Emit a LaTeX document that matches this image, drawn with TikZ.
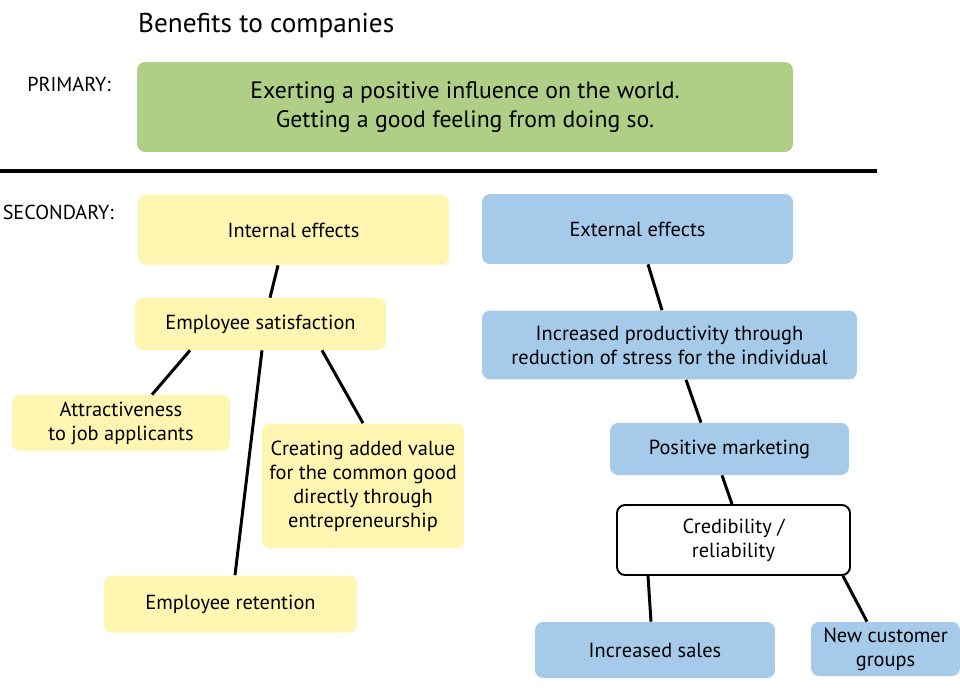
\documentclass[tikz,border=0pt]{standalone}
\usepackage{fontspec}
\setmainfont{PT Sans}
\usetikzlibrary{positioning, calc}

\definecolor{primgreen}{RGB}{174,207,133}
\definecolor{intyellow}{RGB}{255,246,177}
\definecolor{extblue}{RGB}{166,202,233}

\begin{document}
\begin{tikzpicture}[
    x=0.02cm, y=-0.02cm,
    box/.style={
        rounded corners=0.16cm,
        align=center,
        inner sep=2pt,
        font=\fontsize{11.6}{13.6}\selectfont
    },
    primbox/.style={box, fill=primgreen, font=\fontsize{13.5}{16.3}\selectfont},
    intbox/.style={box, fill=intyellow},
    extbox/.style={box, fill=extblue},
    credbox/.style={box, fill=white, draw=black, line width=1.1pt},
    link/.style={line width=1.7pt, black},
    tag/.style={font=\fontsize{11.5}{13}\selectfont, anchor=east}
]

% frame
\useasboundingbox (0,0) rectangle (960,690);

% heading and levels
\node[font=\fontsize{15.5}{18}\selectfont, anchor=west] (title) at (132,26) {Benefits to companies};
\node[tag] (primary) at (117,84) {PRIMARY:};
\node[tag] (secondary) at (120,212) {SECONDARY:};

\node[primbox, minimum width=13.12cm, minimum height=1.8cm] (prim) at (465,107)
  {Exerting a positive influence on the world.\\Getting a good feeling from doing so.};

\coordinate (sepl) at (0,171);
\coordinate (sepr) at (877,171);
\draw[line width=2pt] (sepl) -- (sepr);

% internal effects
\node[intbox, minimum width=6.22cm, minimum height=1.4cm] (inteff) at (293.5,230) {Internal effects};
\node[intbox, minimum width=5.02cm, minimum height=1.04cm] (empsat) at (260.5,324) {Employee satisfaction};
\node[intbox, minimum width=4.36cm, minimum height=1.12cm] (attract) at (121,423) {Attractiveness\\to job applicants};
\node[intbox, minimum width=4.04cm, minimum height=2.5cm] (added) at (363,486)
  {Creating added value\\for the common good\\directly through\\entrepreneurship};
\node[intbox, minimum width=5.06cm, minimum height=1.14cm] (retain) at (230.5,604) {Employee retention};

% external effects
\node[extbox, minimum width=6.22cm, minimum height=1.4cm] (exteff) at (637.5,229) {External effects};
\node[extbox, minimum width=7.5cm, minimum height=1.38cm] (product) at (669.5,345)
  {Increased productivity through\\reduction of stress for the individual};
\node[extbox, minimum width=4.78cm, minimum height=1.04cm] (market) at (729.5,449) {Positive marketing};
\node[credbox, minimum width=4.66cm, minimum height=1.4cm] (cred) at (733.5,540) {Credibility /\\reliability};
\node[extbox, minimum width=4.8cm, minimum height=1.12cm] (sales) at (655,650) {Increased sales};
\node[extbox, minimum width=2.98cm, minimum height=1.08cm] (newcust) at (885.5,649) {New customer\\groups};

% links
\draw[link] ([xshift=-0.31cm]inteff.south) -- ([xshift=0.19cm]empsat.north);
\draw[link] ([xshift=-1.41cm]empsat.south) -- ([xshift=0.62cm]attract.north);
\draw[link] ([xshift=1.23cm]empsat.south) -- (added.north);
\draw[link] ([xshift=0.03cm]empsat.south) -- ([xshift=0.09cm]retain.north);

\draw[link] ([xshift=0.21cm]exteff.south) -- ([xshift=-0.15cm]product.north);
\draw[link] ([xshift=0.33cm]product.south) -- ([xshift=-0.57cm]market.north);
\draw[link] ([xshift=-0.15cm]market.south) -- ([xshift=-0.03cm]cred.north);
\draw[link] ([xshift=-1.71cm]cred.south) -- ([xshift=-0.08cm]sales.north);
\draw[link] ([xshift=2.19cm]cred.south) -- ([xshift=-0.37cm]newcust.north);

\end{tikzpicture}
\end{document}
